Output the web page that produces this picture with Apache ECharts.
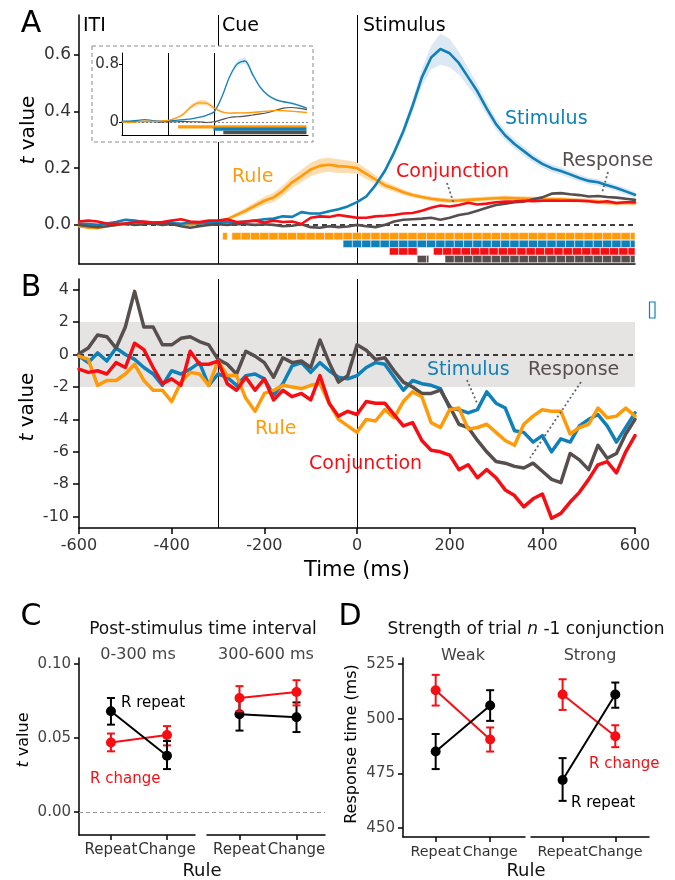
<!DOCTYPE html>
<html>
<head>
<meta charset="utf-8">
<script src="https://cdn.jsdelivr.net/npm/echarts@6/dist/echarts.min.js"></script>
<style>
  html, body { margin: 0; padding: 0; background: #fff; }
  #main { width: 675px; height: 880px; }
</style>
</head>
<body>
<div id="main"></div>
<script>
// ---- data ----
// time grid for panels A and B (ms)
const timeGrid = [-600,-580,-560,-540,-520,-500,-480,-460,-440,-420,-400,-380,-360,-340,-320,-300,-280,-260,-240,-220,-200,-180,-160,-140,-120,-100,-80,-60,-40,-20,0,20,40,60,80,100,120,140,160,180,200,220,240,260,280,300,320,340,360,380,400,420,440,460,480,500,520,540,560,580,600];

// panel A: mean t value
const stimA = [0.005,0.003,0.000,0.005,0.010,0.018,0.015,0.010,0.008,0.005,
  0.006,0.004,0.008,0.005,0.007,0.008,0.010,0.008,0.012,0.015,
  0.020,0.022,0.030,0.028,0.045,0.040,0.040,0.048,0.055,0.065,
  0.080,0.100,0.140,0.190,0.255,0.330,0.420,0.520,0.590,0.620,
  0.605,0.570,0.520,0.470,0.410,0.355,0.315,0.285,0.260,0.235,
  0.215,0.200,0.190,0.178,0.165,0.155,0.150,0.140,0.130,0.118,0.106];
const ruleA = [-0.005,-0.010,-0.012,-0.005,0.000,0.002,0.005,0.008,0.005,0.003,
  0.005,-0.002,0.000,0.005,0.010,0.012,0.020,0.035,0.050,0.068,
  0.085,0.097,0.120,0.150,0.172,0.195,0.208,0.212,0.207,0.205,
  0.200,0.180,0.160,0.140,0.128,0.115,0.105,0.098,0.092,0.088,
  0.085,0.086,0.088,0.090,0.092,0.094,0.095,0.094,0.093,0.092,
  0.090,0.090,0.090,0.088,0.087,0.085,0.082,0.078,0.076,0.078,0.076];
const conjA = [0.012,0.015,0.012,0.005,0.004,0.005,0.010,0.012,0.008,0.010,
  0.015,0.020,0.012,0.010,0.015,0.015,0.020,0.010,0.012,0.015,
  0.008,0.015,0.010,0.012,0.003,0.025,0.030,0.028,0.035,0.030,
  0.025,0.025,0.030,0.032,0.035,0.040,0.042,0.050,0.060,0.068,
  0.065,0.070,0.078,0.072,0.075,0.080,0.082,0.083,0.085,0.083,
  0.085,0.086,0.085,0.086,0.085,0.083,0.080,0.083,0.077,0.080,0.080];
const respA = [0.000,-0.005,-0.008,-0.005,0.000,0.005,0.000,0.002,0.005,0.000,
  0.003,-0.005,-0.010,-0.005,0.000,0.002,0.000,0.003,0.002,0.000,
  0.002,0.000,-0.005,-0.003,0.002,-0.008,-0.010,-0.005,-0.008,-0.006,
  0.000,-0.005,-0.008,0.000,0.012,0.018,0.020,0.022,0.025,0.018,
  0.025,0.035,0.040,0.050,0.060,0.070,0.075,0.080,0.082,0.090,
  0.097,0.110,0.112,0.108,0.105,0.100,0.102,0.098,0.096,0.092,0.088];
// panel A: standard error of the shaded bands
const seStimA = [0.004,0.004,0.004,0.004,0.004,0.004,0.004,0.004,0.004,0.004,
  0.004,0.004,0.004,0.004,0.004,0.004,0.004,0.004,0.004,0.004,
  0.004,0.004,0.004,0.004,0.004,0.004,0.004,0.004,0.004,0.004,
  0.005,0.006,0.008,0.010,0.013,0.017,0.022,0.030,0.042,0.055,
  0.050,0.040,0.032,0.026,0.022,0.020,0.018,0.017,0.016,0.015,
  0.014,0.014,0.013,0.013,0.013,0.012,0.012,0.012,0.011,0.011,0.011];
const seRuleA = [0.004,0.004,0.004,0.004,0.004,0.004,0.004,0.004,0.004,0.004,
  0.004,0.004,0.004,0.004,0.004,0.005,0.006,0.008,0.010,0.012,
  0.014,0.016,0.018,0.020,0.022,0.024,0.025,0.025,0.024,0.022,
  0.020,0.018,0.015,0.013,0.011,0.010,0.008,0.008,0.008,0.008,
  0.008,0.008,0.008,0.008,0.008,0.008,0.008,0.008,0.008,0.008,
  0.008,0.008,0.008,0.008,0.008,0.008,0.008,0.008,0.008,0.008,0.008];
// panel A: significant time windows [start, end] ms
const sigRule = [[-290, -280], [-270, 600]];
const sigStim = [[-30, 600]];
const sigConj = [[70, 130], [165, 600]];
const sigResp = [[130, 155], [190, 600]];

// inset of panel A
const timeInset = [-600,-550,-500,-450,-400,-350,-300,-250,-200,-150,-100,-50,0,50,100,150,200,250,300,350,400,450,500,550,600];
const stimInset = [0.01,0.01,0.02,0.03,0.015,0.01,0.015,0.02,0.03,0.04,0.06,0.09,0.14,0.35,0.63,0.81,0.85,0.66,0.48,0.37,0.31,0.28,0.26,0.23,0.19];
const ruleInset = [0.0,-0.01,0.0,0.01,0.005,0.01,0.02,0.05,0.11,0.21,0.265,0.26,0.19,0.14,0.12,0.125,0.125,0.13,0.14,0.15,0.16,0.155,0.15,0.14,0.13];
const respInset = [0.0,0.0,0.005,0.0,0.0,-0.005,0.0,0.0,0.005,0.0,0.0,-0.01,0.0,0.03,0.06,0.07,0.08,0.095,0.11,0.13,0.16,0.19,0.2,0.19,0.17];
const seStimInset = [0.005,0.005,0.005,0.005,0.005,0.005,0.005,0.005,0.005,0.005,0.005,0.005,0.005,0.01,0.02,0.04,0.045,0.035,0.025,0.02,0.018,0.016,0.015,0.014,0.013];
const seRuleInset = [0.003,0.003,0.003,0.003,0.003,0.003,0.003,0.01,0.02,0.03,0.035,0.03,0.02,0.012,0.008,0.008,0.008,0.008,0.008,0.008,0.008,0.008,0.008,0.008,0.008];
const sigRuleInset = [[-235, 600]];
const sigStimInset = [[-5, 600]];
const sigRespInset = [[59, 600]];

// panel B: t values
const stimB = [-0.1,-0.5,0.1,-0.4,0.4,0.0,-0.3,-0.8,-1.2,-1.9,
  -1.0,-1.2,-0.9,-0.5,-1.9,-1.2,-1.4,-1.9,-1.3,-1.2,
  -1.5,-2.5,-1.8,-0.7,-0.5,-1.1,-0.5,-1.0,-1.4,-1.5,
  -1.3,-0.8,-0.5,-0.6,-1.4,-2.2,-1.6,-1.8,-1.9,-2.1,
  -3.3,-3.4,-3.6,-3.4,-2.3,-3.0,-3.3,-4.7,-4.8,-5.4,
  -5.0,-6.0,-5.2,-5.4,-4.4,-4.0,-3.7,-4.4,-5.4,-4.5,-3.6];
const ruleB = [-0.1,-0.3,-1.9,-1.6,-1.6,-1.2,-0.6,-1.6,-2.2,-2.2,
  -2.9,-1.7,-1.1,-1.2,-1.9,-0.4,-1.3,-1.3,-2.7,-3.5,
  -2.4,-2.2,-1.9,-2.0,-2.1,-1.9,-1.8,-3.0,-4.0,-4.4,
  -4.8,-4.0,-4.1,-3.4,-3.9,-2.9,-2.3,-2.6,-4.2,-4.5,
  -3.4,-3.3,-4.6,-4.5,-4.3,-4.8,-5.3,-5.6,-4.3,-3.8,
  -3.4,-3.5,-3.5,-4.9,-4.5,-4.3,-3.3,-3.9,-3.8,-3.3,-3.8];
const conjB = [-0.9,-1.1,-1.0,-1.2,-0.5,-0.8,0.7,0.3,-0.8,-1.8,
  -1.5,-1.9,0.2,-0.6,-0.6,-0.4,-1.8,-2.2,-1.4,-2.2,
  -1.5,-2.8,-2.2,-2.6,-2.4,-2.8,-1.3,-3.0,-3.8,-3.5,
  -3.7,-2.9,-3.0,-3.0,-3.7,-4.4,-4.2,-5.3,-5.9,-6.0,
  -6.2,-7.1,-6.8,-7.6,-7.1,-7.6,-8.35,-8.7,-9.4,-8.9,
  -8.6,-10.1,-9.8,-9.1,-8.5,-7.7,-6.8,-6.6,-7.3,-6.0,-5.0];
const respB = [0.05,0.4,1.2,1.1,0.4,1.7,3.9,1.7,1.7,0.6,
  0.6,1.0,1.1,0.8,0.6,-0.3,-0.6,-1.2,0.2,-0.1,
  -0.5,-1.4,-0.2,-0.5,-0.4,-0.8,0.9,-0.5,-1.7,-1.3,
  0.6,0.27,-0.3,-0.2,-1.0,-1.7,-2.0,-2.4,-2.4,-2.2,
  -3.2,-4.3,-4.5,-5.3,-6.0,-6.6,-6.7,-6.9,-7.0,-6.7,
  -7.2,-7.7,-7.9,-6.1,-6.5,-7.1,-5.6,-6.4,-6.1,-4.9,-4.0];
const nullBand = [-2, 2];

// panels C and D: x = rule (Repeat, Change)
const ruleLabels = ['Repeat', 'Change'];
const cEarlyRepeat = [0.068, 0.038];
const cEarlyRepeatErr = [[0.059, 0.077], [0.029, 0.048]];
const cEarlyChange = [0.047, 0.052];
const cEarlyChangeErr = [[0.041, 0.053], [0.045, 0.058]];
const cLateRepeat = [0.066, 0.064];
const cLateRepeatErr = [[0.055, 0.077], [0.054, 0.074]];
const cLateChange = [0.077, 0.081];
const cLateChangeErr = [[0.068, 0.085], [0.072, 0.089]];
const dWeakRepeat = [485, 506];
const dWeakRepeatErr = [[477, 493], [499, 513]];
const dWeakChange = [513, 490.5];
const dWeakChangeErr = [[506, 520], [485, 496]];
const dStrongRepeat = [472, 511];
const dStrongRepeatErr = [[462.5, 482], [505, 516.5]];
const dStrongChange = [511, 492];
const dStrongChangeErr = [[504, 518], [487, 497]];

// ---- styling ----
const FONT = 'DejaVu Sans';
const BLUE = '#1080B9', ORANGE = '#FF9A0A', RED = '#F50F14', GRAY = '#574E4E';
const BLUE_BAND = '#DCE9F5', ORANGE_BAND = '#FBDDB1';

function pairs(times, vals) {
  return times.map(function (t, i) { return [t, vals[i]]; });
}

function lineSeries(gi, times, vals, color, width, z, smooth) {
  return {
    type: 'line', xAxisIndex: gi, yAxisIndex: gi, z: z, silent: true,
    data: pairs(times, vals), showSymbol: false, smooth: smooth || false,
    lineStyle: { color: color, width: width, cap: 'round', join: 'round' }
  };
}

// shaded band mean +/- se, drawn as one polygon
function bandSeries(gi, times, mean, se, color, z, smooth) {
  return {
    type: 'custom', xAxisIndex: gi, yAxisIndex: gi, z: z, silent: true,
    data: times.map(function (t, i) { return [t, mean[i] - se[i], mean[i] + se[i]]; }),
    encode: { x: 0, y: [1, 2] },
    renderItem: function (params, api) {
      if (params.dataIndex !== 0) return;
      const up = [], lo = [];
      for (let i = 0; i < times.length; i++) {
        up.push(api.coord([times[i], mean[i] + se[i]]));
        lo.push(api.coord([times[i], mean[i] - se[i]]));
      }
      return { type: 'polygon', shape: { points: up.concat(lo.reverse()), smooth: smooth || 0 },
        style: { fill: color } };
    }
  };
}

// significance rows, split into time cells
function sigSeries(gi, runs, yc, h, color, cell, z) {
  return {
    type: 'custom', xAxisIndex: gi, yAxisIndex: gi, z: z, silent: true,
    data: runs.map(function (r) { return [r[0], r[1], yc]; }),
    encode: { x: [0, 1], y: 2 },
    renderItem: function (params, api) {
      const s = api.value(0), e = api.value(1), y = api.value(2);
      const kids = [];
      for (let t = s; t < e - 0.01; t += cell) {
        const p1 = api.coord([t, y]);
        const p2 = api.coord([Math.min(t + cell, e), y]);
        kids.push({ type: 'rect', shape: { x: p1[0], y: p1[1] - h / 2, width: p2[0] - p1[0], height: h },
          style: { fill: color, stroke: cell < 100 ? 'rgba(255,255,255,0.7)' : null, lineWidth: 0.7 } });
      }
      return { type: 'group', children: kids };
    }
  };
}

function meanSeries(gi, vals, color, z) {
  return {
    type: 'line', xAxisIndex: gi, yAxisIndex: gi, z: z, silent: true,
    data: vals.map(function (v, i) { return [i, v]; }),
    symbol: 'circle', symbolSize: 10, showSymbol: true,
    lineStyle: { color: color, width: 2 }, itemStyle: { color: color }
  };
}

function errSeries(gi, ranges, color, z) {
  return {
    type: 'custom', xAxisIndex: gi, yAxisIndex: gi, z: z, silent: true,
    data: ranges.map(function (r, i) { return [i, r[0], r[1]]; }),
    encode: { x: 0, y: [1, 2] },
    renderItem: function (params, api) {
      const pl = api.coord([api.value(0), api.value(1)]);
      const ph = api.coord([api.value(0), api.value(2)]);
      const w = 4, st = { stroke: color, lineWidth: 2 };
      return { type: 'group', children: [
        { type: 'line', shape: { x1: pl[0], y1: pl[1], x2: ph[0], y2: ph[1] }, style: st },
        { type: 'line', shape: { x1: pl[0] - w, y1: pl[1], x2: pl[0] + w, y2: pl[1] }, style: st },
        { type: 'line', shape: { x1: ph[0] - w, y1: ph[1], x2: ph[0] + w, y2: ph[1] }, style: st }
      ] };
    }
  };
}

function txt(x, y, text, size, color, align, extra) {
  const c = color || '#000';
  return Object.assign({
    type: 'text', x: x, y: y, z: 20, silent: true,
    style: { text: text, fill: c, fontSize: size, fontFamily: FONT,
      textAlign: align || 'left', textVerticalAlign: 'middle',
      rich: { i: { fontStyle: 'italic', fontSize: size, fontFamily: FONT, fill: c } } }
  }, extra || {});
}
function leader(x1, y1, x2, y2) {
  return { type: 'line', z: 20, silent: true, shape: { x1: x1, y1: y1, x2: x2, y2: y2 },
    style: { stroke: '#666', lineWidth: 1.8, lineDash: [2, 2.5] } };
}

const axisBlack = { onZero: false, lineStyle: { color: '#000', width: 1.5 } };
const axisThin = { onZero: false, lineStyle: { color: '#000', width: 1 } };
const noSplit = { show: false };

function ruleXAxis(gi, min, max, size) {
  return {
    gridIndex: gi, type: 'value', min: min, max: max,
    axisLine: axisBlack, splitLine: noSplit,
    axisTick: { customValues: [0, 1], length: 5, lineStyle: { color: '#000', width: 1.5 } },
    axisLabel: { customValues: [0, 1], fontSize: size, color: '#333', margin: 8, fontFamily: FONT,
      hideOverlap: false, showMinLabel: true, showMaxLabel: true,
      formatter: function (v) { return ruleLabels[Math.round(v)]; } }
  };
}

const markA = {
  silent: true, symbol: 'none', z: 1, label: { show: false },
  lineStyle: { color: '#000', width: 1, type: 'solid' },
  data: [{ xAxis: -300 }, { xAxis: 0 },
    { yAxis: 0, lineStyle: { type: [5, 4], width: 1.5, color: '#000' } }]
};
const markInset = {
  silent: true, symbol: 'none', z: 11, label: { show: false },
  lineStyle: { color: '#000', width: 1, type: 'solid' },
  data: [{ xAxis: -300 }, { xAxis: 0 },
    { yAxis: 0, lineStyle: { type: [2, 2], width: 1, color: '#888' } }]
};

const chart = echarts.init(document.getElementById('main'), null, { renderer: 'canvas' });

const series = [];
// panel A
series.push(bandSeries(0, timeGrid, ruleA, seRuleA, ORANGE_BAND, 2));
series.push(bandSeries(0, timeGrid, stimA, seStimA, BLUE_BAND, 2));
const sA = lineSeries(0, timeGrid, ruleA, ORANGE, 2.6, 3);
sA.markLine = markA;
series.push(sA);
series.push(lineSeries(0, timeGrid, stimA, BLUE, 2.6, 4));
series.push(lineSeries(0, timeGrid, respA, GRAY, 2.6, 5));
series.push(lineSeries(0, timeGrid, conjA, RED, 2.6, 6));
series.push(sigSeries(0, sigRule, -0.040, 7.3, ORANGE, 20, 3));
series.push(sigSeries(0, sigStim, -0.067, 7.3, BLUE, 20, 3));
series.push(sigSeries(0, sigConj, -0.0935, 7.3, RED, 20, 3));
series.push(sigSeries(0, sigResp, -0.1206, 7.3, GRAY, 20, 3));
// inset
series.push(bandSeries(1, timeInset, stimInset, seStimInset, BLUE_BAND, 10, 0.3));
series.push(bandSeries(1, timeInset, ruleInset, seRuleInset, ORANGE_BAND, 10, 0.3));
const sI = lineSeries(1, timeInset, respInset, GRAY, 1.2, 11, 0.3);
sI.markLine = markInset;
series.push(sI);
series.push(lineSeries(1, timeInset, stimInset, BLUE, 1.3, 12, 0.3));
series.push(lineSeries(1, timeInset, ruleInset, ORANGE, 1.3, 13, 0.3));
series.push(sigSeries(1, sigRuleInset, -0.07, 3.3, ORANGE, 5000, 12));
series.push(sigSeries(1, sigStimInset, -0.104, 3.3, BLUE, 5000, 12));
series.push(sigSeries(1, sigRespInset, -0.15, 3.5, GRAY, 5000, 12));
// panel B
const sB = lineSeries(2, timeGrid, stimB, BLUE, 3.5, 2);
sB.markArea = { silent: true, z: 0, itemStyle: { color: '#E6E4E2' },
  data: [[{ yAxis: nullBand[0] }, { yAxis: nullBand[1] }]] };
sB.markLine = markA;
series.push(sB);
series.push(lineSeries(2, timeGrid, respB, GRAY, 3.5, 3));
series.push(lineSeries(2, timeGrid, ruleB, ORANGE, 3.5, 4));
series.push(lineSeries(2, timeGrid, conjB, RED, 3.5, 5));
// panel C
series.push({ type: 'line', xAxisIndex: 5, yAxisIndex: 5, data: [], silent: true,
  markLine: { silent: true, symbol: 'none', label: { show: false }, z: 1,
    lineStyle: { color: '#999', width: 1, type: [4, 3] }, data: [{ yAxis: 0 }] } });
series.push(errSeries(3, cEarlyChangeErr, RED, 3));
series.push(meanSeries(3, cEarlyChange, RED, 4));
series.push(errSeries(3, cEarlyRepeatErr, '#000', 5));
series.push(meanSeries(3, cEarlyRepeat, '#000', 6));
series.push(errSeries(4, cLateRepeatErr, '#000', 3));
series.push(meanSeries(4, cLateRepeat, '#000', 4));
series.push(errSeries(4, cLateChangeErr, RED, 5));
series.push(meanSeries(4, cLateChange, RED, 6));
// panel D
series.push(errSeries(6, dWeakChangeErr, RED, 3));
series.push(meanSeries(6, dWeakChange, RED, 4));
series.push(errSeries(6, dWeakRepeatErr, '#000', 5));
series.push(meanSeries(6, dWeakRepeat, '#000', 6));
series.push(errSeries(7, dStrongChangeErr, RED, 3));
series.push(meanSeries(7, dStrongChange, RED, 4));
series.push(errSeries(7, dStrongRepeatErr, '#000', 5));
series.push(meanSeries(7, dStrongRepeat, '#000', 6));

const option = {
  animation: false,
  backgroundColor: '#fff',
  textStyle: { fontFamily: FONT },
  grid: [
    { left: 79, top: 15, width: 556, height: 249, outerBoundsMode: 'none' },
    { left: 122, top: 53, width: 186, height: 82, outerBoundsMode: 'none' },
    { left: 79, top: 279, width: 556, height: 249, outerBoundsMode: 'none' },
    { left: 79, top: 658, width: 116, height: 177, outerBoundsMode: 'none' },
    { left: 207, top: 658, width: 118, height: 177, outerBoundsMode: 'none' },
    { left: 79, top: 658, width: 246, height: 177, outerBoundsMode: 'none' },
    { left: 403, top: 658, width: 122, height: 179, outerBoundsMode: 'none' },
    { left: 531, top: 658, width: 118, height: 179, outerBoundsMode: 'none' }
  ],
  xAxis: [
    { gridIndex: 0, type: 'value', min: -600, max: 600, axisLine: axisBlack,
      axisTick: { show: false }, axisLabel: { show: false }, splitLine: noSplit },
    { gridIndex: 1, type: 'value', min: -600, max: 610, z: 10, axisLine: axisThin,
      axisTick: { show: false }, axisLabel: { show: false }, splitLine: noSplit },
    { gridIndex: 2, type: 'value', min: -600, max: 600, interval: 200, axisLine: axisBlack, splitLine: noSplit,
      axisTick: { length: 6, lineStyle: { color: '#000', width: 1.5 } },
      axisLabel: { fontSize: 16, color: '#333', margin: 10, fontFamily: FONT } },
    ruleXAxis(3, -0.57, 1.5, 15),
    ruleXAxis(4, -0.57, 1.5, 15),
    { gridIndex: 5, type: 'value', min: 0, max: 1, show: false },
    ruleXAxis(6, -0.6, 1.64, 14.3),
    ruleXAxis(7, -0.6, 1.64, 14.3)
  ],
  yAxis: [
    { gridIndex: 0, type: 'value', min: -0.138, max: 0.74, axisLine: axisBlack, splitLine: noSplit,
      axisTick: { customValues: [0, 0.2, 0.4, 0.6], length: 5, lineStyle: { color: '#000', width: 1.5 } },
      axisLabel: { customValues: [0, 0.2, 0.4, 0.6], fontSize: 17, color: '#333', margin: 8, fontFamily: FONT,
        formatter: function (v) { return v.toFixed(1); } } },
    { gridIndex: 1, type: 'value', min: -0.185, max: 0.962, z: 10, axisLine: axisThin,
      splitLine: noSplit,
      axisTick: { customValues: [0, 0.8], length: 3, lineStyle: { color: '#000' } },
      axisLabel: { customValues: [0, 0.8], fontSize: 15, color: '#333', margin: 3, fontFamily: FONT,
        formatter: function (v) { return v === 0 ? '0' : v.toFixed(1); } } },
    { gridIndex: 2, type: 'value', min: -10.7, max: 4.66, axisLine: axisBlack, splitLine: noSplit,
      axisTick: { customValues: [-10, -8, -6, -4, -2, 0, 2, 4], length: 6, lineStyle: { color: '#000', width: 1.5 } },
      axisLabel: { customValues: [-10, -8, -6, -4, -2, 0, 2, 4], fontSize: 16, color: '#333', margin: 10, fontFamily: FONT } },
    { gridIndex: 3, type: 'value', min: -0.0155, max: 0.104, axisLine: axisBlack, splitLine: noSplit,
      axisTick: { customValues: [0, 0.05, 0.1], length: 5, lineStyle: { color: '#000', width: 1.5 } },
      axisLabel: { customValues: [0, 0.05, 0.1], fontSize: 15, color: '#444', margin: 8, fontFamily: FONT,
        formatter: function (v) { return v.toFixed(2); } } },
    { gridIndex: 4, type: 'value', min: -0.0155, max: 0.104, show: false },
    { gridIndex: 5, type: 'value', min: -0.0155, max: 0.104, show: false },
    { gridIndex: 6, type: 'value', min: 446.0, max: 527.7, axisLine: axisBlack, splitLine: noSplit,
      axisTick: { customValues: [450, 475, 500, 525], length: 5, lineStyle: { color: '#000', width: 1.5 } },
      axisLabel: { customValues: [450, 475, 500, 525], fontSize: 15, color: '#444', margin: 8, fontFamily: FONT } },
    { gridIndex: 7, type: 'value', min: 446.0, max: 527.7, show: false }
  ],
  graphic: [
    { type: 'rect', z: 8, silent: true, shape: { x: 92, y: 46, width: 221, height: 96 },
      style: { fill: '#fff', stroke: '#8a8a8a', lineWidth: 1, lineDash: [4, 3] } },
    { type: 'rect', z: 20, silent: true, shape: { x: 649.5, y: 302, width: 5.5, height: 16 },
      style: { fill: 'none', stroke: BLUE, lineWidth: 1.2 } },
    txt(31, 24, 'A', 30, '#000', 'center'),
    txt(31, 288, 'B', 30, '#000', 'center'),
    txt(31, 617, 'C', 30, '#000', 'center'),
    txt(350, 617, 'D', 30, '#000', 'center'),
    txt(83, 26, 'ITI', 19),
    txt(222, 26, 'Cue', 19),
    txt(363, 26, 'Stimulus', 19),
    txt(505, 119, 'Stimulus', 19, BLUE),
    txt(562, 161, 'Response', 19, GRAY),
    txt(396, 172, 'Conjunction', 19, RED),
    txt(232, 177, 'Rule', 19, ORANGE),
    leader(447, 183, 454, 204),
    leader(608, 172, 602, 193),
    txt(427, 370, 'Stimulus', 19, BLUE),
    txt(528, 370, 'Response', 19, GRAY),
    txt(255, 429, 'Rule', 19, ORANGE),
    txt(309, 464, 'Conjunction', 19, RED),
    leader(467, 380, 477, 403),
    leader(581, 382, 530, 458),
    txt(357, 571, 'Time (ms)', 21, '#000', 'center'),
    txt(29, 130, '{i|t} value', 20, '#000', 'center', { rotation: Math.PI / 2 }),
    txt(28, 407, '{i|t} value', 20, '#000', 'center', { rotation: Math.PI / 2 }),
    txt(24, 740, '{i|t} value', 16, '#000', 'center', { rotation: Math.PI / 2 }),
    txt(352, 744, 'Response time (ms)', 16, '#000', 'center', { rotation: Math.PI / 2 }),
    txt(203, 630, 'Post-stimulus time interval', 17, '#111', 'center'),
    txt(138, 655, '0-300 ms', 16, '#444', 'center'),
    txt(266, 655, '300-600 ms', 16, '#444', 'center'),
    txt(202, 871, 'Rule', 18, '#111', 'center'),
    txt(121, 703, 'R repeat', 15, '#000'),
    txt(90, 779, 'R change', 15, RED),
    txt(526, 630, 'Strength of trial {i|n} -1 conjunction', 17, '#111', 'center'),
    txt(463, 656, 'Weak', 16, '#444', 'center'),
    txt(590, 656, 'Strong', 16, '#444', 'center'),
    txt(526, 871, 'Rule', 18, '#111', 'center'),
    txt(589, 764, 'R change', 15, RED),
    txt(571, 803, 'R repeat', 15, '#000')
  ],
  series: series
};

chart.setOption(option);
</script>
</body>
</html>
